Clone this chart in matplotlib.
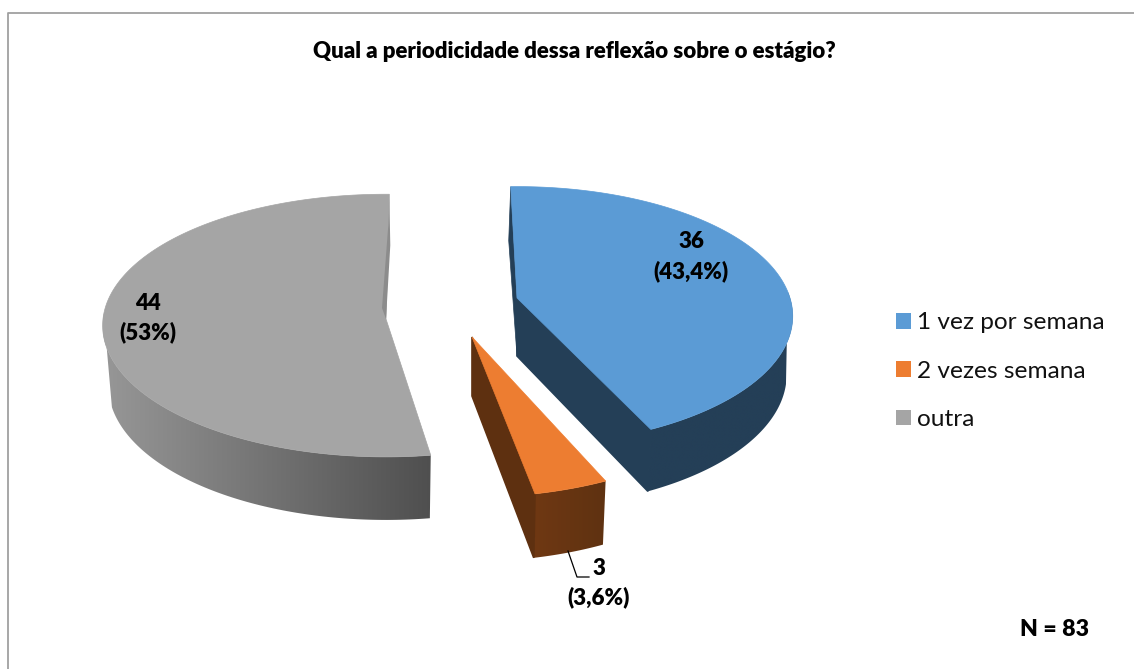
import numpy as np
from matplotlib import pyplot as plt
from matplotlib.colors import LinearSegmentedColormap
from matplotlib.patches import Patch, Polygon

plt.rcParams['font.family'] = ['Lato', 'DejaVu Sans']

categories = ['1 vez por semana', '2 vezes semana', 'outra']
values = [36, 3, 44]
value_labels = ['36\n(43,4%)', '3\n(3,6%)', '44\n(53%)']
title = 'Qual a periodicidade dessa reflexão sobre o estágio?'
note = 'N = 83'

face_colors = ['#5b9bd5', '#ed7d31', '#a5a5a5']

# how each exploded slice is seen: apex, radii, perspective, wall depth
slice_views = [
    {'name': 'blue', 'apex': (517, 298), 'rx': 273, 'ry': 127, 'k': 0.14, 'turn': (0.5, 0.5), 'depth': 58,
     'grow': 3.0, 'shrink': 0.978, 'wall': ('#243f57', '#243f57'), 'cut': '#243f57', 'label': (691, 256.5)},
    {'name': 'orange', 'apex': (472, 337), 'rx': 279, 'ry': 133, 'k': 0.17, 'turn': (2, 2), 'depth': 59,
     'grow': 3.2, 'shrink': 0.98, 'wall': ('#6f3813', '#5f3211'), 'cut': '#5e3010', 'label': (599, 583)},
    {'name': 'gray', 'apex': (386, 319), 'rx': 283, 'ry': 131, 'k': 0.05, 'turn': (4.2, 2.7), 'depth': 60,
     'grow': 2.2, 'shrink': 0.98, 'wall': ('#979797', '#4f4f4f'), 'cut': '#8c8c8c', 'label': (148, 318)},
]
start_angle = -2


def project(theta, view):
    rad = np.radians(theta)
    u, v = np.sin(rad), -np.cos(rad)
    w = 1 - view['k'] * v
    return view['apex'][0] + view['rx'] * u / w, view['apex'][1] + view['ry'] * v / w


def drop(x, y, view):
    ax0, ay0 = view['apex']
    return ax0 + (x - ax0) * view['shrink'], y + view['depth'] + view['grow'] * (y - ay0) / 100


def draw_slice(ax, theta1, theta2, color, view):
    thetas = np.linspace(theta1 + view['turn'][0], theta2 + view['turn'][1], 200)
    xs, ys = project(thetas, view)
    bx, by = drop(xs, ys, view)
    apex = view['apex']
    apex_low = drop(apex[0], apex[1], view)

    # outer wall, front part only, shaded along x
    front = -np.cos(np.radians(thetas)) > -0.05
    low = -np.cos(np.radians(thetas)) > 0.2
    wall = list(zip(xs[front], ys[front])) + list(zip(bx[low][::-1], by[low][::-1]))
    cmap = LinearSegmentedColormap.from_list(view['name'], view['wall'])
    x_lo, x_hi = min(xs[front].min(), bx[low].min()), max(xs[front].max(), bx[low].max())
    y_lo, y_hi = ys[front].min() - 2, by[low].max() + 2
    img = ax.imshow(np.linspace(0, 1, 256)[None, :], cmap=cmap, extent=(x_lo, x_hi, y_hi, y_lo), aspect='auto',
                    zorder=2, interpolation='bilinear')
    img.set_clip_path(Polygon(wall, transform=ax.transData))

    # cut faces
    if view['name'] != 'gray':
        ax.add_patch(Polygon([apex, (xs[-1], ys[-1]), (bx[-1], by[-1]), apex_low], fc=view['cut'], ec=view['cut'],
                             lw=1.2, zorder=2.5))
    if view['name'] == 'blue':
        ax.add_patch(Polygon([(xs[0], ys[0]), (xs[0] - 2, ys[0] + 54), apex_low, apex], fc=view['cut'],
                             ec=view['cut'], lw=0.5, zorder=2.5))

    outline = [apex] + list(zip(xs, ys))
    ax.add_patch(Polygon(outline, fc=color, ec=color, lw=0.5, zorder=3))

    if view['name'] == 'gray':
        # darker strip along the back edge of the big slice
        ax.add_patch(Polygon([(xs[-1], ys[-1]), (xs[-1] + 1, ys[-1] + 51), apex, (apex[0] - 4, apex[1] - 11),
                              (xs[-1] - 1, ys[-1] + 31)], fc=view['cut'], ec='none', zorder=3.5))


fig = plt.figure(figsize=(11.34, 6.69), dpi=100)
ax = fig.add_axes([0, 0, 1, 1])
ax.axis('off')

# chart frame, open at the right and the bottom
ax.plot([7.5, 7.5, 1134], [669, 12.5, 12.5], color='#a0a0a0', lw=1.3, zorder=1)

angle = start_angle
total = sum(values)
for value, color, view, text in zip(values, face_colors, slice_views, value_labels):
    span = 360 * value / total
    draw_slice(ax, angle, angle + span, color, view)
    angle += span
    ax.text(view['label'][0], view['label'][1], text, ha='center', va='center', fontsize=16,
            fontweight=800, color='black', linespacing=1.45, zorder=5)

ax.set_xlim(0, 1134)
ax.set_ylim(669, 0)

# leader of the small slice
ax.plot([568, 577, 589], [551, 577, 577], color='black', lw=0.9, zorder=4)

ax.text(574, 51, title, ha='center', va='center', fontsize=16.05, fontweight=800, color='black')
ax.text(1055, 630, note, ha='center', va='center', fontsize=16.7, fontweight=800, color='black')

handles = [Patch(facecolor=c, edgecolor='none') for c in face_colors]
ax.legend(handles, categories, loc='upper left', bbox_to_anchor=(889 / 1134, 1 - 305 / 669), frameon=False,
          fontsize=17.6, handlelength=0.62, handleheight=0.62, handletextpad=0.22, labelspacing=1.12,
          labelcolor='#111111', borderpad=0.3, borderaxespad=0)

fig.savefig('out.png', dpi=100)
